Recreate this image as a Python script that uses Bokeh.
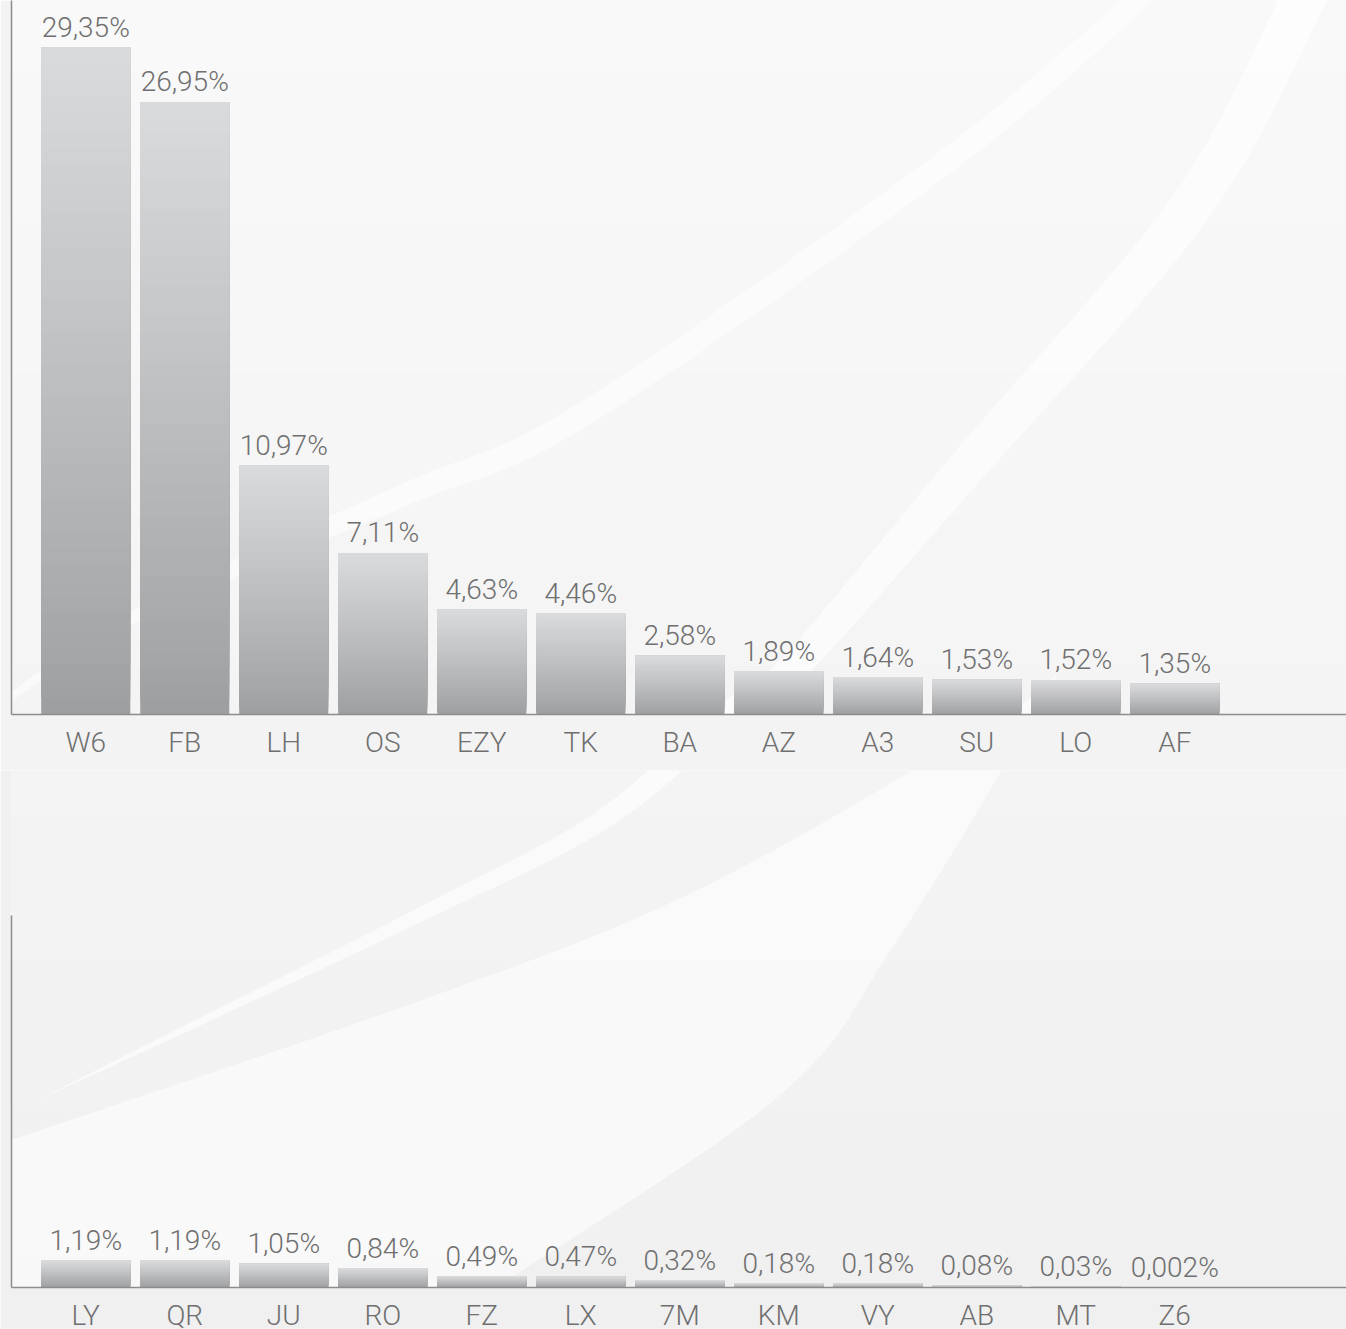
import numpy as np
from bokeh.plotting import figure
from bokeh.layouts import column
from bokeh.models import Range1d, FixedTicker
from bokeh.core.properties import value
from bokeh.embed import file_html
from bokeh.resources import INLINE

# ---------------- data ----------------
top_codes = ["W6", "FB", "LH", "OS", "EZY", "TK", "BA", "AZ", "A3", "SU", "LO", "AF"]
top_values = [29.35, 26.95, 10.97, 7.11, 4.63, 4.46, 2.58, 1.89, 1.64, 1.53, 1.52, 1.35]
top_labels = ["29,35%", "26,95%", "10,97%", "7,11%", "4,63%", "4,46%", "2,58%",
              "1,89%", "1,64%", "1,53%", "1,52%", "1,35%"]

bottom_codes = ["LY", "QR", "JU", "RO", "FZ", "LX", "7M", "KM", "VY", "AB", "MT", "Z6"]
bottom_values = [1.19, 1.19, 1.05, 0.84, 0.49, 0.47, 0.32, 0.18, 0.18, 0.08, 0.03, 0.002]
bottom_labels = ["1,19%", "1,19%", "1,05%", "0,84%", "0,49%", "0,47%", "0,32%",
                 "0,18%", "0,18%", "0,08%", "0,03%", "0,002%"]

# ---------------- geometry / style ----------------
PXU = 22.73          # pixels per percentage point
CAT = 99.0           # pixels per category
FRAME_L = 11
FRAME_W = 1335
X0 = -0.75
X1 = X0 + FRAME_W / CAT
TEXT_COL = "#6f6f6f"
AXIS_COL = "#8c8c8c"
FONT = "Roboto Light"
FONT_SIZE = "28px"
BAR_TOP = np.array([217, 218, 220])
BAR_BOT = np.array([158, 159, 161])


def hexc(rgb):
    r, g, b = [int(round(c)) for c in rgb]
    return "#%02x%02x%02x" % (r, g, b)


def bg_gray(y_ref):
    return 249 - 9 * y_ref / 1329.0


def spline(pts, n=14):
    pts = np.asarray(pts, float)
    P = np.vstack([2 * pts[0] - pts[1], pts, 2 * pts[-1] - pts[-2]])
    out = []
    for i in range(1, len(P) - 2):
        p0, p1, p2, p3 = P[i - 1], P[i], P[i + 1], P[i + 2]
        for t in np.linspace(0, 1, n, endpoint=False):
            out.append(0.5 * (2 * p1 + (-p0 + p2) * t + (2 * p0 - 5 * p1 + 4 * p2 - p3) * t * t
                              + (-p0 + 3 * p1 - 3 * p2 + p3) * t ** 3))
    out.append(pts[-1])
    return np.array(out)


def band(pts):
    S = spline(pts)
    d = np.gradient(S[:, :2], axis=0)
    ln = np.hypot(d[:, 0], d[:, 1])
    nrm = np.stack([-d[:, 1] / ln, d[:, 0] / ln], axis=1)
    L = S[:, :2] + nrm * S[:, 2:3]
    R = S[:, :2] - nrm * S[:, 2:3]
    return np.vstack([L, R[::-1]])


# decorative swooshes, in page pixel coordinates
band_R = band([(34, 1101, 0), (200, 1021, 3.5), (420, 914, 7), (601, 820, 10), (725, 716, 13),
               (792, 668, 15), (973, 459, 19), (1190, 207, 21), (1302, 0, 22), (1330, -60, 22)])
band_3 = band([(-30, 725, 3), (135, 615, 6), (400, 496, 11), (581, 415, 12), (943, 163, 12),
               (1136, 0, 11), (1170, -40, 11)])
wedge_l = spline([(-60, 1165), (0, 1143), (420, 1000), (700, 888), (1000, 717), (1058, 672)])
wedge_r = spline([(1058, 672), (1033, 717), (890, 950), (772, 1101), (437, 1329), (400, 1400)])
wedge = np.vstack([wedge_l, wedge_r, [(-60, 1400)]])
swooshes = [(wedge, 0.55), (band_3, 0.5), (band_R, 0.6)]


def make_chart(codes, values, labels, base_ref, frame_h, y_ref_top, border_bottom, border_col,
               axis_top_ref=None):
    y_end = frame_h / PXU
    p = figure(frame_width=FRAME_W, frame_height=frame_h,
               x_range=Range1d(X0, X1), y_range=Range1d(0, y_end),
               output_backend="svg", toolbar_location=None,
               min_border_left=FRAME_L, min_border_right=0, min_border_top=0,
               min_border_bottom=border_bottom)
    p.border_fill_color = border_col
    p.background_fill_color = hexc([bg_gray(base_ref - frame_h / 2)] * 3)
    p.outline_line_color = None
    p.grid.visible = False

    def xd(px):
        return X0 + (np.asarray(px) - FRAME_L) / CAT

    def yd(py):
        return (base_ref - np.asarray(py)) / PXU

    # background vertical gradient (strips)
    step = 6
    ys = np.arange(y_ref_top, base_ref, step)
    p.quad(left=X0 - 1, right=X1 + 1, top=yd(ys), bottom=yd(np.minimum(ys + step + 1, base_ref)),
           fill_color=[hexc([bg_gray(y + step / 2)] * 3) for y in ys], line_color=None)
    # swooshes
    for poly, a in swooshes:
        p.patch(xd(poly[:, 0]), yd(poly[:, 1]), fill_color="white", fill_alpha=a, line_color=None)

    # gradient bars: overlapping layers from bottom to top
    N = 40
    xs = np.arange(len(values))
    left, right, bot, top, cols = [], [], [], [], []
    for j in range(N):
        t = j / (N - 1)
        c = hexc(BAR_BOT + (BAR_TOP - BAR_BOT) * t ** 0.9)
        for i, v in enumerate(values):
            left.append(i - 0.45)
            right.append(i + 0.45)
            bot.append(v * j / N)
            top.append(v)
            cols.append(c)
    p.quad(left=left, right=right, bottom=bot, top=top, fill_color=cols, line_color=None)

    # value labels
    p.text(x=xs, y=values, text=labels, text_align="center", text_baseline="alphabetic",
           y_offset=-20, text_font=value(FONT), text_font_size=FONT_SIZE, text_color=TEXT_COL)

    # axes
    xa = p.xaxis[0]
    xa.ticker = FixedTicker(ticks=list(range(len(codes))))
    xa.major_label_overrides = {i: c for i, c in enumerate(codes)}
    xa.major_tick_line_color = None
    xa.minor_tick_line_color = None
    xa.major_label_standoff = 5
    xa.major_label_text_font = FONT
    xa.major_label_text_font_size = FONT_SIZE
    xa.major_label_text_color = TEXT_COL
    xa.axis_line_color = AXIS_COL
    xa.axis_line_width = 1.5

    ya = p.yaxis[0]
    ya.ticker = FixedTicker(ticks=[])
    ya.major_tick_line_color = None
    ya.minor_tick_line_color = None
    ya.major_label_standoff = 0
    ya.major_label_text_font_size = "0px"
    ya.axis_line_color = AXIS_COL
    ya.axis_line_width = 1.5
    if axis_top_ref is not None:
        ya.bounds = (0, float(yd(axis_top_ref)))
    return p


p_top = make_chart(top_codes, top_values, top_labels, base_ref=714, frame_h=714, y_ref_top=0,
                   border_bottom=56, border_col="#f3f3f3")
p_bot = make_chart(bottom_codes, bottom_values, bottom_labels, base_ref=1287, frame_h=517,
                   y_ref_top=770, border_bottom=42, border_col="#f0f0f0", axis_top_ref=915)

layout = column(p_top, p_bot, spacing=0)
open("out.html", "w").write(file_html(layout, INLINE))
